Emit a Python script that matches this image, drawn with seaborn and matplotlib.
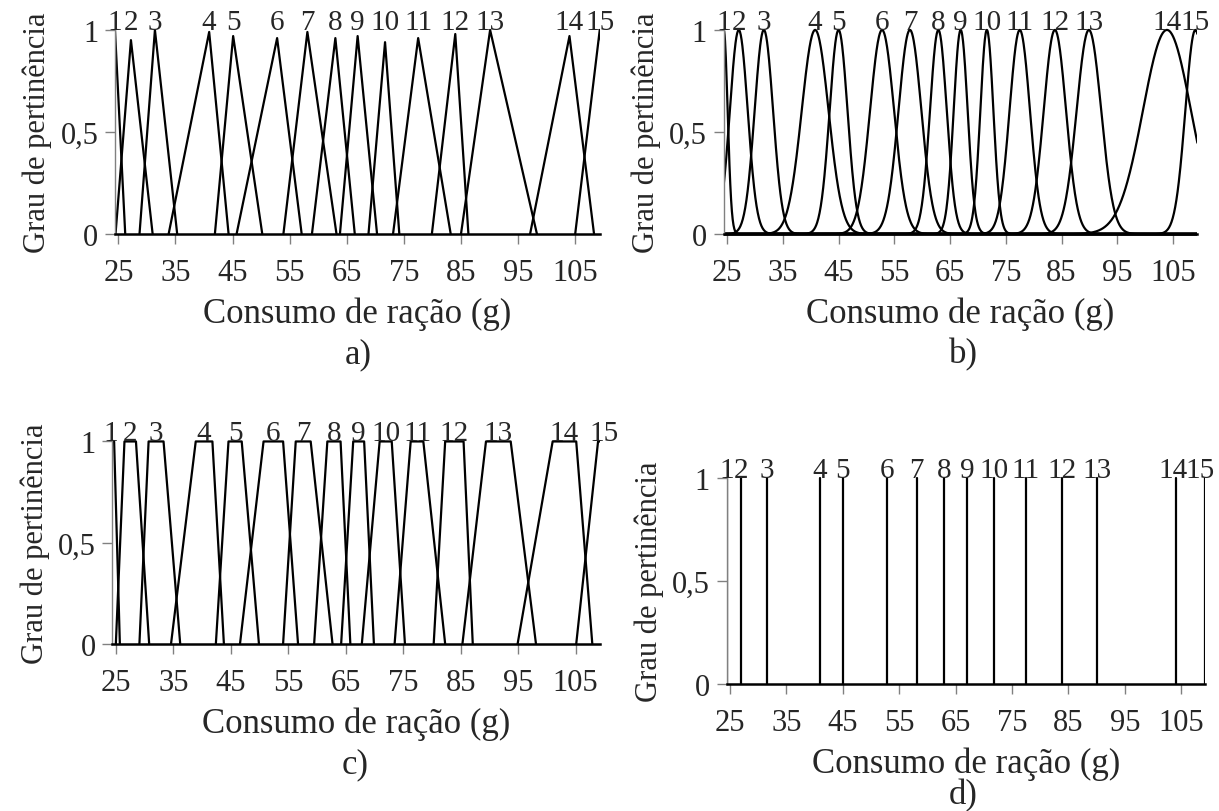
import numpy as np
import pandas as pd
import matplotlib
matplotlib.use("Agg")
import matplotlib.pyplot as plt
import seaborn as sns
from matplotlib.patches import Rectangle

# ---------------- data ----------------
set_labels = [str(i) for i in range(1, 16)]
x_ticks = [25, 35, 45, 55, 65, 75, 85, 95, 105]
y_ticks = [0, 0.5, 1]
y_ticklabels = ["0", "0,5", "1"]
x_min, x_max = 24.4, 109.3

# a) triangular membership functions (left foot, peak, right foot, peak height)
tri_left = [22.6, 24.5, 28.7, 33.8, 41.9, 45.7, 53.9, 58.9, 63.8, 68.8, 73.1, 79.9, 85.0, 97.1, 105.0]
tri_peak = [24.4, 27.2, 31.4, 40.9, 45.1, 52.8, 58.1, 63.0, 66.9, 71.7, 77.5, 84.0, 90.1, 104.0, 109.3]
tri_right = [26.2, 31.0, 35.3, 44.3, 50.2, 57.1, 63.2, 66.4, 70.3, 74.2, 83.2, 86.3, 98.3, 108.3, 113.6]
tri_height = [1.0, 0.95, 1.0, 0.99, 0.97, 0.96, 0.99, 0.96, 0.97, 0.94, 0.96, 0.98, 1.0, 0.97, 1.0]

# b) gaussian membership functions (centre, sigma)
gauss_center = [24.4, 27.1, 31.6, 40.8, 45.0, 52.8, 57.8, 62.9, 66.9, 71.6, 77.5, 83.8, 89.9, 103.9, 109.0]
gauss_sigma = [0.7, 1.6, 1.65, 2.4, 1.6, 2.15, 2.05, 1.5, 1.25, 1.17, 1.83, 2.0, 2.2, 4.3, 1.8]

# c) trapezoidal membership functions (a, b, c, d)
trap_a = [23.0, 25.0, 29.1, 34.6, 42.4, 46.6, 54.1, 59.5, 64.2, 67.8, 73.5, 80.3, 85.3, 94.9, 105.1]
trap_b = [23.6, 26.5, 30.7, 38.9, 44.6, 50.7, 56.3, 61.8, 66.3, 70.9, 76.3, 82.3, 89.4, 101.0, 108.9]
trap_c = [24.7, 28.5, 33.3, 41.8, 46.9, 54.1, 58.9, 64.1, 68.2, 73.0, 78.5, 85.5, 93.7, 105.1, 111.0]
trap_d = [25.7, 30.8, 36.2, 43.8, 49.9, 56.7, 62.7, 65.8, 69.9, 75.3, 82.3, 87.1, 98.1, 107.9, 114.0]

# d) singleton membership functions
single_x = [24.4, 27.0, 31.6, 40.9, 45.0, 52.9, 58.1, 62.9, 67.0, 71.8, 77.4, 83.9, 90.1, 104.0, 109.2]
# set-number label positions in d) (the last two sit slightly left of their lines)
single_label_x = [24.4, 27.0, 31.6, 40.9, 45.0, 52.9, 58.1, 62.9, 67.0, 71.8, 77.4, 83.9, 90.1, 103.6, 108.3]

# ---------------- tables ----------------
rows = []
for i, lab in enumerate(set_labels):
    rows += [(lab, tri_left[i], 0.0), (lab, tri_peak[i], tri_height[i]), (lab, tri_right[i], 0.0)]
df_tri = pd.DataFrame(rows, columns=["set", "x", "y"])

grid = np.linspace(x_min - 1, x_max + 1, 1200)
rows = []
for i, lab in enumerate(set_labels):
    yy = np.exp(-0.5 * ((grid - gauss_center[i]) / gauss_sigma[i]) ** 2)
    rows += [(lab, gx, gy) for gx, gy in zip(grid, yy)]
df_gauss = pd.DataFrame(rows, columns=["set", "x", "y"])

rows = []
for i, lab in enumerate(set_labels):
    rows += [(lab, trap_a[i], 0.0), (lab, trap_b[i], 1.0), (lab, trap_c[i], 1.0), (lab, trap_d[i], 0.0)]
df_trap = pd.DataFrame(rows, columns=["set", "x", "y"])

rows = []
for i, lab in enumerate(set_labels):
    rows += [(lab, single_x[i], 0.0), (lab, single_x[i], 1.0)]
df_single = pd.DataFrame(rows, columns=["set", "x", "y"])

label_pos = {
    "a": tri_peak,
    "b": gauss_center,
    "c": [(b + c) / 2 for b, c in zip(trap_b, trap_c)],
    "d": single_label_x,
}

# ---------------- style ----------------
sns.set_theme(style="white")
plt.rcParams["font.family"] = ["Liberation Serif", "DejaVu Serif"]

fig = plt.figure(figsize=(12.19, 8.12), dpi=100)
positions = {
    "a": [0.0943, 0.7106, 0.3977, 0.2513],
    "b": [0.5937, 0.7106, 0.3883, 0.2513],
    "c": [0.0922, 0.2057, 0.4003, 0.2494],
    "d": [0.5960, 0.1564, 0.3929, 0.2537],
}
data = {"a": df_tri, "b": df_gauss, "c": df_trap, "d": df_single}
captions = {"a": (0.2937, 0.5630), "b": (0.790, 0.5630), "c": (0.291, 0.058), "d": (0.790, 0.020)}

for key in ["a", "b", "c", "d"]:
    ax = fig.add_axes(positions[key])
    sns.lineplot(data=data[key], x="x", y="y", units="set", estimator=None, sort=False,
                 color="black", linewidth=1.6, ax=ax, legend=False)
    ax.set_xlim(x_min, x_max)
    ax.set_ylim(0, 1)
    clip = Rectangle((0, -0.03), 1, 1.06, transform=ax.transAxes, fill=False, visible=False)
    ax.add_patch(clip)
    for ln in ax.lines:
        ln.set_clip_path(clip)
    for sp in ["top", "right"]:
        ax.spines[sp].set_visible(False)
    ax.spines["left"].set_color("#808080")
    ax.spines["left"].set_linewidth(1.0)
    ax.spines["bottom"].set_color("black")
    ax.spines["bottom"].set_linewidth(1.8)
    ax.set_xticks(x_ticks)
    ax.set_xticklabels([str(t) for t in x_ticks])
    ax.set_yticks(y_ticks)
    ax.set_yticklabels(y_ticklabels)
    ax.tick_params(axis="x", direction="out", length=7, width=1.0, color="#808080",
                   labelsize=22, pad=10, bottom=True)
    ax.tick_params(axis="y", direction="out", length=7, width=1.0, color="#808080",
                   labelsize=22, pad=5, left=True)
    ax.set_xlabel("Consumo de ração (g)", fontsize=25, labelpad=7)
    ax.set_ylabel("Grau de pertinência", fontsize=22, labelpad=6)
    for lab, xp in zip(set_labels, label_pos[key]):
        ax.text(xp, 1.005, lab, ha="center", va="baseline", fontsize=21, clip_on=False)
    fig.text(captions[key][0], captions[key][1], key + ")", ha="center", va="center", fontsize=25)

fig.savefig("out.png", dpi=100, facecolor="white")
